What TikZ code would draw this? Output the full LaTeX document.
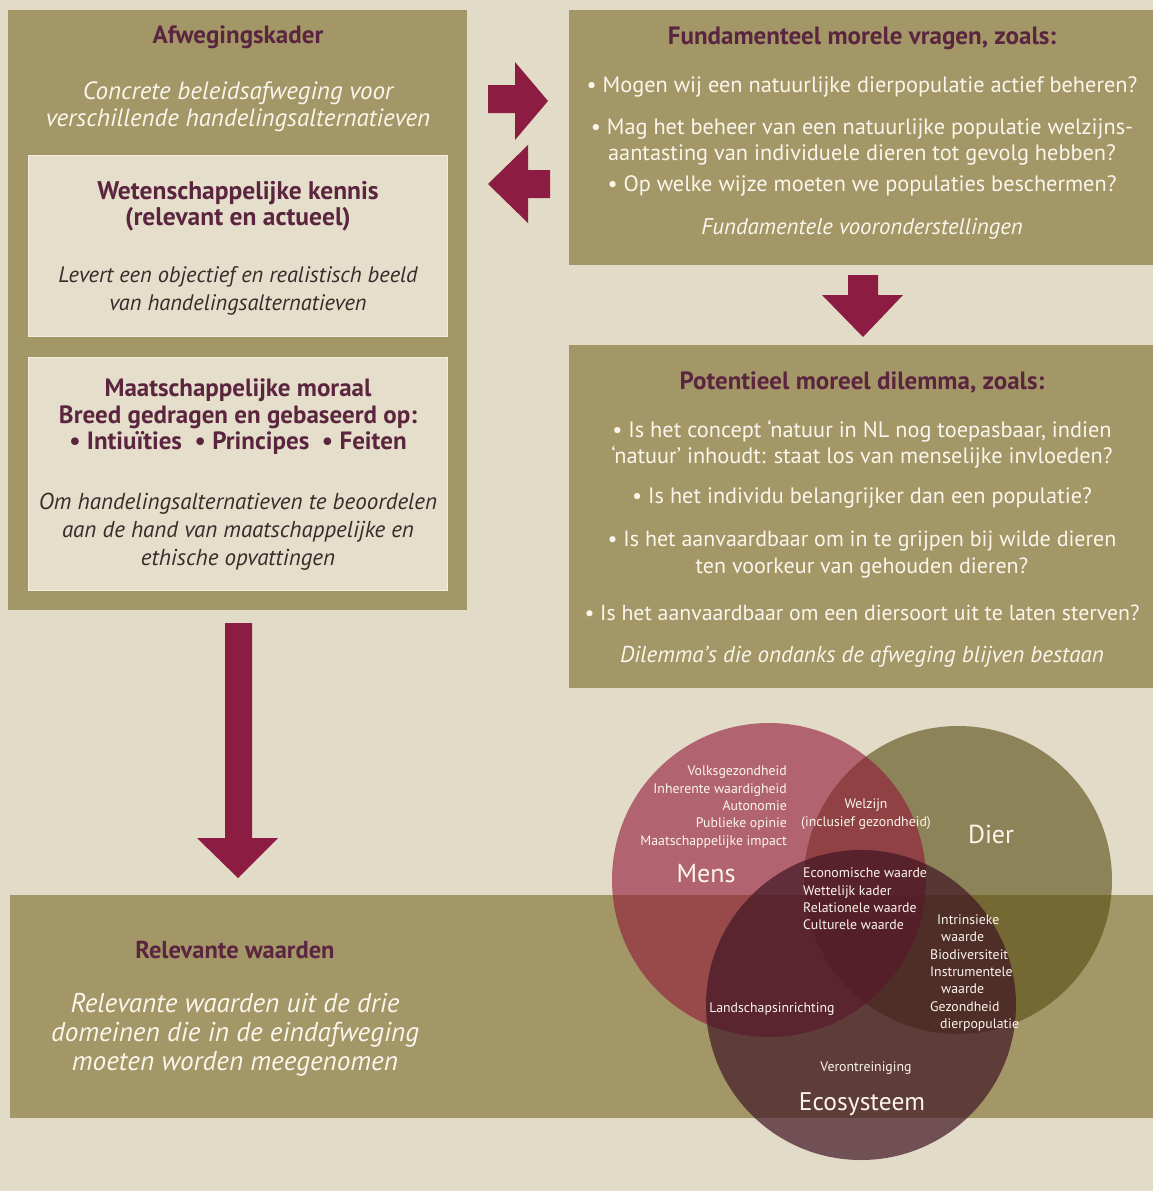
\documentclass[tikz,border=0pt]{standalone}
\usepackage{fontspec}
\setmainfont{PT Sans}
\definecolor{bgc}{HTML}{E2DBC7}
\definecolor{olive}{HTML}{A39767}
\definecolor{inner}{HTML}{E5DECA}
\definecolor{purp}{HTML}{5B2540}
\definecolor{arrc}{HTML}{8C1C42}
\definecolor{darktx}{HTML}{3A2A2A}
\definecolor{offw}{HTML}{FBF6EC}
\definecolor{mensc}{RGB}{145,22,55}
\definecolor{dierc}{RGB}{90,78,20}
\definecolor{ecoc}{RGB}{65,22,36}
\begin{document}
\begin{tikzpicture}[x=1pt,y=-1pt,
  hd/.style={text=purp,font=\bfseries\fontsize{25}{26}\selectfont,align=center,inner sep=0},
  wit/.style={text=offw,font=\fontsize{22.3}{25.5}\selectfont,align=center,inner sep=0},
  witit/.style={text=offw,font=\itshape\fontsize{25}{27}\selectfont,align=center,inner sep=0},
  darkit/.style={text=darktx,font=\itshape\fontsize{22.4}{28}\selectfont,align=center,inner sep=0},
  vsm/.style={text=offw,font=\fontsize{13.8}{17.4}\selectfont,inner sep=0},
  vbig/.style={text=offw,font=\fontsize{26}{28}\selectfont,inner sep=0},
  blockarrow/.style={fill=arrc},
  innerbox/.style={fill=inner,draw=white!50!inner,line width=1pt}]
\useasboundingbox (0,0) rectangle (1153,1191);
\fill[bgc] (0,0) rectangle (1153,1191);
% boxes
\fill[olive] (8,10) rectangle (467,610);
\draw[innerbox] (28,155) rectangle (447,336);
\draw[innerbox] (28,357) rectangle (447,590);
\fill[olive] (569,10) rectangle (1153,265);
\fill[olive] (569,345) rectangle (1153,688);
\fill[olive] (10,895) rectangle (1153,1118);
% block arrows
\fill[blockarrow] (488,85) -- (515,85) -- (515,62) -- (548,101) -- (515,140) -- (515,113) -- (488,113) -- cycle;
\fill[blockarrow] (550,170) -- (528,170) -- (528,145) -- (488,184) -- (528,223) -- (528,198) -- (550,198) -- cycle;
\fill[blockarrow] (848,275) -- (878,275) -- (878,295) -- (903,295) -- (863,337) -- (822,295) -- (848,295) -- cycle;
\fill[blockarrow] (225,623) -- (252,623) -- (252,838) -- (278,838) -- (238,878) -- (197,838) -- (225,838) -- cycle;
% Venn
\fill[dierc,fill opacity=0.62] (958,880) circle (154);
\fill[mensc,fill opacity=0.6] (769,880) circle (157);
\fill[ecoc,fill opacity=0.7] (861,1005) circle (155);
% left box texts
\node[hd] (afw) at (238,37) {Afwegingskader};
\node[witit] (afwt) at (238,107) {Concrete beleidsafweging voor\\verschillende handelingsalternatieven};
\node[hd,font=\bfseries\fontsize{25.5}{26}\selectfont] (wet) at (238,206) {Wetenschappelijke kennis\\(relevant en actueel)};
\node[darkit] (wett) at (238,291) {Levert een objectief en realistisch beeld\\van handelingsalternatieven};
\node[hd,font=\bfseries\fontsize{25}{26.5}\selectfont] (maa) at (238,417) {Maatschappelijke moraal\\Breed gedragen en gebaseerd op:\\• Intiuïties \ • Principes \ • Feiten};
\node[darkit,font=\itshape\fontsize{23}{28}\selectfont] (maat) at (238,532) {Om handelingsalternatieven te beoordelen\\aan de hand van maatschappelijke en\\ethische opvattingen};
% right box 1
\node[hd] (fun) at (862,38) {Fundamenteel morele vragen, zoals:};
\node[wit] (f1) at (862,87) {• Mogen wij een natuurlijke dierpopulatie actief beheren?};
\node[wit] (f2) at (862,142) {• Mag het beheer van een natuurlijke populatie welzijns-\\aantasting van individuele dieren tot gevolg hebben?};
\node[wit] (f3) at (862,186) {• Op welke wijze moeten we populaties beschermen?};
\node[witit,font=\itshape\fontsize{22.8}{25}\selectfont] (f4) at (862,229) {Fundamentele vooronderstellingen};
% right box 2
\node[hd] (pot) at (862,382) {Potentieel moreel dilemma, zoals:};
\node[wit] (p1) at (862,444) {• Is het concept ‘natuur in NL nog toepasbaar, indien\\‘natuur’ inhoudt: staat los van menselijke invloeden?};
\node[wit] (p2) at (862,498) {• Is het individu belangrijker dan een populatie?};
\node[wit,font=\fontsize{22}{27}\selectfont] (p3) at (862,555) {• Is het aanvaardbaar om in te grijpen bij wilde dieren\\ten voorkeur van gehouden dieren?};
\node[wit,font=\fontsize{21.8}{25}\selectfont] (p4) at (862,613) {• Is het aanvaardbaar om een diersoort uit te laten sterven?};
\node[witit,font=\itshape\fontsize{23}{25}\selectfont] (p5) at (862,657) {Dilemma’s die ondanks de afweging blijven bestaan};
% bottom band
\node[hd,font=\bfseries\fontsize{24.5}{26}\selectfont] (rel) at (235,950) {Relevante waarden};
\node[witit,font=\itshape\fontsize{27.2}{29}\selectfont] (relt) at (235,1035) {Relevante waarden uit de drie\\domeinen die in de eindafweging\\moeten worden meegenomen};
% Venn texts
\node[vsm,align=right,anchor=east] (mv) at (787,807) {Volksgezondheid\\Inherente waardigheid\\Autonomie\\Publieke opinie\\Maatschappelijke impact};
\node[vsm,align=center] (wz) at (866,814) {Welzijn\\(inclusief gezondheid)};
\node[vbig] (dier) at (991,834) {Dier};
\node[vbig] (mens) at (706,874) {Mens};
\node[vsm,align=left,anchor=west] (ec) at (803,899) {Economische waarde\\Wettelijk kader\\Relationele waarde\\Culturele waarde};
\node[vsm,align=left,anchor=west] (intr) at (930,973) {\hspace*{7pt}Intrinsieke\\\hspace*{11pt}waarde\\Biodiversiteit\\Instrumentele\\\hspace*{11pt}waarde\\Gezondheid\\\hspace*{10pt}dierpopulatie};
\node[vsm] (land) at (772,1009) {Landschapsinrichting};
\node[vsm] (ver) at (866,1068) {Verontreiniging};
\node[vbig,font=\fontsize{25.5}{28}\selectfont] (eco) at (862,1104) {Ecosysteem};
\end{tikzpicture}
\end{document}
